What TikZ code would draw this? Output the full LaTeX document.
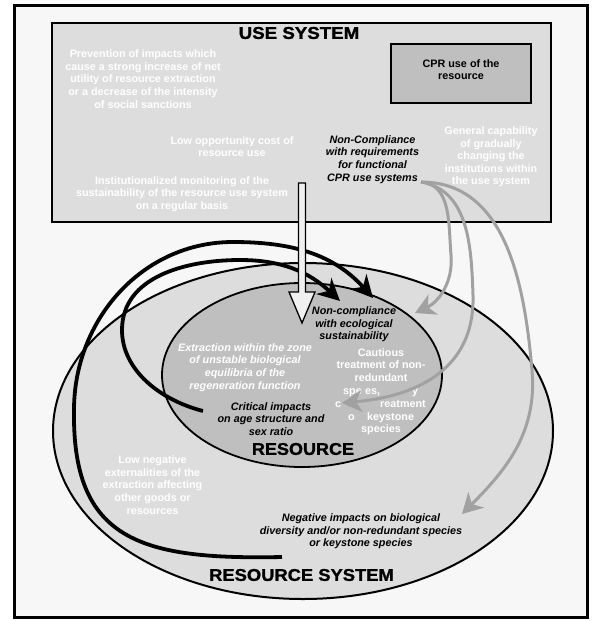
\documentclass[tikz,border=0pt]{standalone}
\usepackage{fontspec}
\usepackage{graphicx}
\setmainfont{Liberation Sans}
\newfontfamily\heavyfont{Liberation Sans}[BoldFeatures={FakeBold=1.2}]
\usetikzlibrary{arrows.meta}

\definecolor{framefill}{gray}{0.97}
\definecolor{panelfill}{gray}{0.867}
\definecolor{darkfill}{gray}{0.75}
\definecolor{linkgray}{gray}{0.63}
\definecolor{shaftfill}{gray}{0.94}

\tikzset{
  txt/.style={font=\bfseries\fontsize{10.8}{12.6}\selectfont, align=center, inner sep=0pt},
  lighttxt/.style={txt, text=white},
  darktxt/.style={txt, font=\bfseries\itshape\fontsize{10.8}{12.6}\selectfont},
  lightitalic/.style={darktxt, text=white},
  titletxt/.style={font=\heavyfont\bfseries\fontsize{17}{20}\selectfont, inner sep=0pt},
  blackarc/.style={line width=3.8pt, -{Stealth[length=22pt,width=22pt,inset=7pt]}},
  grayarc/.style={draw=linkgray, line width=3pt, -{Stealth[length=20pt,width=22pt,inset=6pt]}},
}

\begin{document}
\begin{tikzpicture}[x=1pt,y=1pt]
\useasboundingbox (0,0) rectangle (592,-621);
\fill[white] (0,0) rectangle (592,-621);

% outer frame
\draw[line width=3pt, fill=framefill] (14,-5) rectangle (587,-617);

% use system panel
\draw[line width=2.2pt, fill=panelfill] (52,-23) rectangle (551,-222);
\node[draw, line width=1.8pt, fill=darkfill, minimum width=140pt, minimum height=59pt] (cprbox) at (461,-73.5) {};
\node[txt, font=\bfseries\fontsize{10.8}{11.5}\selectfont] (cprtext) at (461,-69.5) {CPR use of the\\resource};
\node[titletxt] (usetitle) at (299,-33) {\scalebox{1.1}[1]{USE SYSTEM}};

\node[lighttxt] (prevention) at (143,-79) {Prevention of impacts which\\cause a strong increase of net\\utility of resource extraction\\or a decrease of the intensity\\of social sanctions};
\node[lighttxt] (oppcost) at (232,-146.5) {Low opportunity cost of\\resource use};
\node[lighttxt] (monitoring) at (182,-194) {Institutionalized monitoring of the\\sustainability of the resource use system\\on a regular basis};
\node[darktxt] (noncpr) at (372.5,-159.5) {Non-Compliance\\with requirements\\for functional\\CPR use systems};
\node[lighttxt] (general) at (491,-157) {General capability\\of gradually\\changing the\\institutions within\\the use system};

% resource system and resource
\draw[line width=2pt, fill=panelfill] (303,-431) ellipse [x radius=250, y radius=168];
\draw[line width=1.8pt, fill=darkfill] (302,-375) ellipse [x radius=140, y radius=92];

\node[titletxt] (restitle) at (303,-449) {\scalebox{1.06}[1]{RESOURCE}};
\node[titletxt] (systitle) at (301.5,-575) {\scalebox{1.08}[1]{RESOURCE SYSTEM}};

\node[darktxt] (noneco) at (354,-324.5) {Non-compliance\\with ecological\\sustainability};
\node[lightitalic] (extraction) at (245,-367.5) {Extraction within the zone\\of unstable biological\\equilibria of the\\regeneration function};
\node[darktxt] (critical) at (271,-419) {Critical impacts\\on age structure and\\sex ratio};
\node[lighttxt] (externalities) at (152.5,-485) {Low negative\\externalities of the\\extraction affecting\\other goods or\\resources};
\node[darktxt] (diversity) at (361,-531.5) {Negative impacts on biological\\diversity and/or non-redundant species\\or keystone species};

% cautious treatment block, partly hidden under the link
\node[lighttxt, anchor=base] (caut1) at (381,-356) {Cautious};
\node[lighttxt, anchor=base] (caut2) at (381,-368) {treatment of non-};
\node[lighttxt, anchor=base] (caut3) at (381,-381) {redundant};
\node[lighttxt, anchor=base west] (caut4a) at (343,-394) {spe};
\node[lighttxt, anchor=base west] (caut4b) at (365,-394) {es,};
\node[lighttxt, anchor=base west] (caut4c) at (412,-394) {y};
\node[lighttxt, anchor=base west] (caut5a) at (335,-407) {c};
\node[lighttxt, anchor=base west] (caut5b) at (380,-407) {reatment};
\node[lighttxt, anchor=base west] (caut6a) at (348,-420) {o};
\node[lighttxt, anchor=base west] (caut6b) at (367,-420) {keystone};
\node[lighttxt, anchor=base] (caut7) at (381,-432) {species};

% connector end points
\coordinate (critEnd) at (203,-411);
\coordinate (sysEnd) at (282,-557);
\coordinate (ecoTipA) at (340,-301);
\coordinate (ecoTipB) at (373,-298);
\coordinate (cprEnd) at (421,-182);
\coordinate (ecoTipC) at (415,-313);
\coordinate (cautTip) at (342,-403);
\coordinate (divTip) at (462,-514);

% black feedback arcs
\draw[blackarc] (critEnd) .. controls (160,-400) and (122,-370) .. (122,-330)
  to[out=90,in=180] (240,-260) to[out=0,in=137] (ecoTipA);
\draw[blackarc] (sysEnd) .. controls (140,-560) and (72,-540) .. (74,-410)
  to[out=90,in=180] (233,-242) to[out=0,in=132] (ecoTipB);

% hollow downward arrow
\draw[line width=1.3pt, fill=shaftfill, line join=miter]
  (298.5,-183) -- (305.5,-183) -- (305.5,-292) -- (315,-292) -- (302,-323)
  -- (289,-292) -- (298.5,-292) -- cycle;

% grey links from the use system
\draw[grayarc] (cprEnd) to[out=-5,in=95] (451,-255) to[out=-85,in=25] (ecoTipC);
\draw[grayarc] (cprEnd) to[out=-10,in=92] (473,-295) .. controls (475,-360) and (430,-395) .. (cautTip);
\draw[grayarc] (cprEnd) to[out=0,in=95] (532,-370) to[out=-85,in=45] (divTip);
\end{tikzpicture}
\end{document}
